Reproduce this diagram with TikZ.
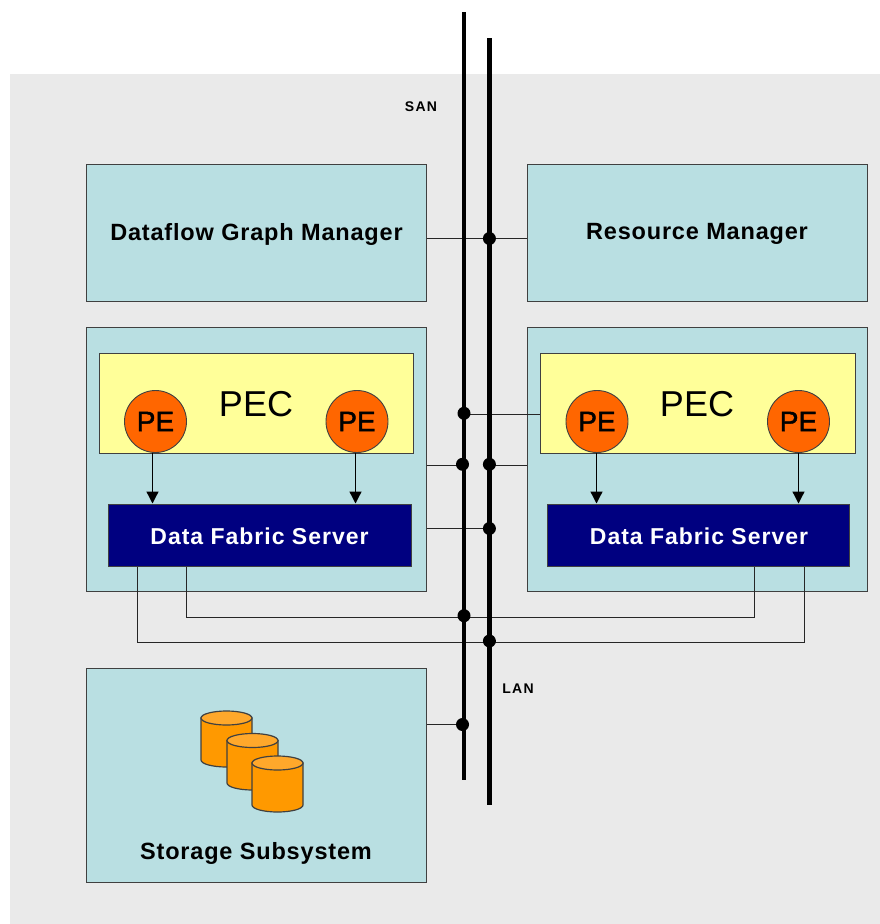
\documentclass[tikz,border=0pt]{standalone}
\usepackage{fontspec}
\setmainfont{Liberation Sans}
\usetikzlibrary{arrows.meta}
\definecolor{bgc}{HTML}{EAEAEA}
\definecolor{tealc}{HTML}{B9DFE2}
\definecolor{yelc}{HTML}{FFFF99}
\definecolor{orgc}{HTML}{FF6600}
\definecolor{navc}{HTML}{000080}
\definecolor{cylc}{HTML}{FF9900}
\definecolor{cyltop}{HTML}{FFA82B}
\definecolor{edgec}{HTML}{404040}
\tikzset{
  boxbase/.style={rectangle,draw=edgec,line width=1.2pt,inner sep=0pt,anchor=north west},
  tealbox/.style={boxbase,fill=tealc},
  pecbox/.style={boxbase,fill=yelc},
  dfsbox/.style={boxbase,fill=navc},
  pecircle/.style={circle,draw=edgec,line width=0.9pt,fill=orgc,minimum size=62pt,inner sep=0pt,font=\fontsize{28}{28}\selectfont\addfontfeature{FakeBold=1.5}},
  title/.style={font=\fontsize{23.5}{24}\selectfont\bfseries\addfontfeature{LetterSpace=3.5},text=black},
  dfstitle/.style={font=\fontsize{23}{24}\selectfont\bfseries\addfontfeature{LetterSpace=4.3},text=white},
  pectitle/.style={font=\fontsize{36}{36}\selectfont},
  buslabel/.style={font=\fontsize{14}{14}\selectfont\bfseries\addfontfeature{LetterSpace=9}},
  bus/.style={line width=4.6pt,black},
  wire/.style={line width=1.25pt,black!85},
  arrowwire/.style={line width=1.3pt,black,-{Triangle[length=12pt,width=12pt]}},
  busdot/.style={circle,fill=black,minimum size=13pt,inner sep=0pt},
}
\newcommand{\dbcyl}[3]{% left x, top y of ellipse, bottom y
  \draw[fill=cylc,draw=edgec,line width=1.2pt] (#1,#2+7) -- (#1,#3-7) arc[start angle=180,end angle=0,x radius=25.5,y radius=7] -- (#1+51,#2+7) -- cycle;
  \draw[fill=cyltop,draw=edgec,line width=1.2pt] (#1+25.5,#2+7) ellipse[x radius=25.5,y radius=7];
}
\begin{document}
\begin{tikzpicture}[x=1pt,y=-1pt]
\useasboundingbox (0,0) rectangle (880,924);
\fill[bgc] (10,74) rectangle (880,924);

% boxes
\node[tealbox,minimum width=340pt,minimum height=137pt] (dgm) at (85.5,163.5) {};
\node[title] at (256.5,234) {Dataflow Graph Manager};
\node[tealbox,minimum width=340pt,minimum height=137pt] (rm) at (526.5,163.5) {};
\node[title] at (697,234) {Resource Manager};
\node[tealbox,minimum width=340pt,minimum height=264pt] (hl) at (85.5,326.5) {};
\node[tealbox,minimum width=340pt,minimum height=264pt] (hr) at (526.5,326.5) {};
\node[tealbox,minimum width=340pt,minimum height=214pt] (st) at (85.5,667.5) {};
\node[title] at (256,853) {Storage Subsystem};

% PEC
\node[pecbox,minimum width=314pt,minimum height=100pt] (pecl) at (98.5,352.5) {};
\node[pecbox,minimum width=315pt,minimum height=100pt] (pecr) at (539.5,352.5) {};
\node[pectitle] at (256,404) {PEC};
\node[pectitle] at (697,404) {PEC};
\node[pecircle] (pe1) at (155.5,421.5) {PE};
\node[pecircle] (pe2) at (357,421.5) {PE};
\node[pecircle] (pe3) at (597,421.5) {PE};
\node[pecircle] (pe4) at (798.5,421.5) {PE};

% DFS
\node[dfsbox,minimum width=303pt,minimum height=62pt] (dl) at (107.5,503.5) {};
\node[dfsbox,minimum width=302pt,minimum height=62pt] (dr) at (546.5,503.5) {};
\node[dfstitle] at (259.5,536) {Data Fabric Server};
\node[dfstitle] at (699,536) {Data Fabric Server};

% arrows
\coordinate (a1) at (152.5,453); \coordinate (a2) at (355.5,453);
\coordinate (a3) at (596.5,453); \coordinate (a4) at (798.5,453);
\draw[arrowwire] (a1) -- (a1 |- dl.north);
\draw[arrowwire] (a2) -- (a2 |- dl.north);
\draw[arrowwire] (a3) -- (a3 |- dr.north);
\draw[arrowwire] (a4) -- (a4 |- dr.north);

% buses
\coordinate (santop) at (464,12); \coordinate (sanbot) at (464,780);
\coordinate (lantop) at (489.4,38); \coordinate (lanbot) at (489.4,805);
\node[buslabel] (sanl) at (421,107) {SAN};
\node[buslabel] (lanl) at (518,689) {LAN};

% bus dots
\coordinate (y1) at (489.4,238.5);
\coordinate (y2) at (464,413.3);
\coordinate (y3) at (462.5,464.3);
\coordinate (y4) at (489.4,464.3);
\coordinate (y5) at (489.4,528.5);
\coordinate (y6) at (464,615.7);
\coordinate (y7) at (489.4,641);
\coordinate (y8) at (462.5,724.5);

% wire heights
\coordinate (h2) at (0,414.5);
\coordinate (h3) at (0,465.5);

% wires
\draw[wire] (dgm.east |- y1) -- (rm.west |- y1);
\draw[wire] (y2 |- h2) -- (pecr.west |- h2);
\draw[wire] (hl.east |- h3) -- (y3 |- h3);
\draw[wire] (y4 |- h3) -- (hr.west |- h3);
\draw[wire] (hl.east |- y5) -- (y5);
\draw[wire] (st.east |- y8) -- (y8);
\coordinate (w1) at (186.5,617.5); \coordinate (w2) at (754.5,617.5);
\coordinate (w3) at (137.5,642.5); \coordinate (w4) at (804.5,642.5);
\draw[wire] (w1 |- dl.south) -- (w1) -- (w2) -- (w2 |- dr.south);
\draw[wire] (w3 |- dl.south) -- (w3) -- (w4) -- (w4 |- dr.south);

\draw[bus] (santop) -- (sanbot);
\draw[bus] (lantop) -- (lanbot);
\foreach \n in {1,...,8} \node[busdot] (dot\n) at (y\n) {};

% storage cylinders
\dbcyl{201}{711}{767}
\dbcyl{227}{733.5}{790}
\dbcyl{252}{756}{812}
\end{tikzpicture}
\end{document}
